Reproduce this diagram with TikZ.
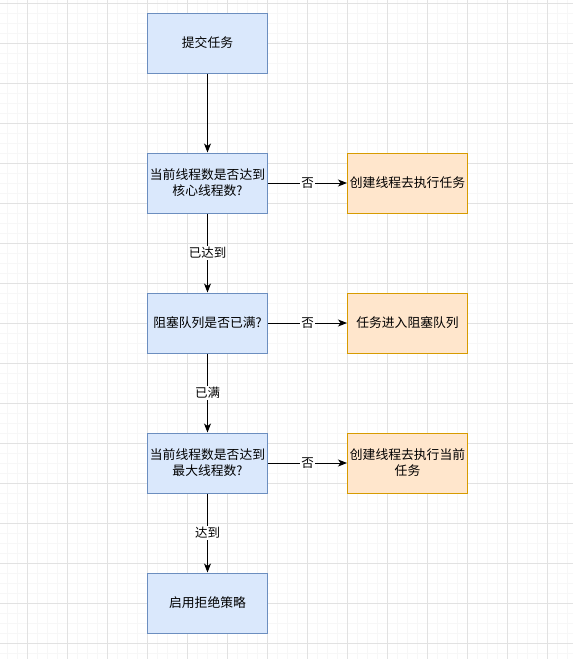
\documentclass[tikz,border=0pt]{standalone}
\usepackage{fontspec}
\setmainfont{Noto Sans CJK SC}
\usetikzlibrary{arrows.meta}
\definecolor{bfill}{HTML}{DAE8FC}
\definecolor{bdraw}{HTML}{6C8EBF}
\definecolor{ofill}{HTML}{FFE6CC}
\definecolor{odraw}{HTML}{D79B00}
\definecolor{gminor}{HTML}{F7F7F7}
\definecolor{gmajor}{HTML}{E2E2E2}
\tikzset{
  box/.style={rectangle, minimum width=120pt, minimum height=60pt, align=center, inner sep=1pt, line width=1pt, font=\fontsize{12.8}{16}\selectfont},
  bluebox/.style={box, fill=bfill, draw=bdraw},
  orangebox/.style={box, fill=ofill, draw=odraw},
  conn/.style={line width=1pt, -{Stealth[length=9pt,width=7pt,inset=2.5pt]}},
  lbl/.style={fill=white, inner sep=1pt, font=\fontsize{12.5}{15}\selectfont}
}
\begin{document}
\begin{tikzpicture}[x=1pt,y=-1pt]
\fill[white] (0,0) rectangle (573,659);
\useasboundingbox (0,0) rectangle (573,659);
\foreach \x in {7,17,...,567} \draw[gminor, line width=0.8pt] (\x,0) -- (\x,659);
\foreach \y in {3,13,...,653} \draw[gminor, line width=0.8pt] (0,\y) -- (573,\y);
\foreach \x in {27,67,...,547} \draw[gmajor, line width=0.8pt] (\x,0) -- (\x,659);
\foreach \y in {3,43,...,643} \draw[gmajor, line width=0.8pt] (0,\y) -- (573,\y);

\node[bluebox] (submit) at (207.5,43) {提交任务};
\node[bluebox] (core) at (207.5,183) {当前线程数是否达到\\核心线程数?};
\node[bluebox] (queue) at (207.5,323) {阻塞队列是否已满?};
\node[bluebox] (max) at (207.5,463) {当前线程数是否达到\\最大线程数?};
\node[bluebox] (reject) at (207.5,603) {启用拒绝策略};

\node[orangebox] (create1) at (407.5,183) {创建线程去执行任务};
\node[orangebox] (enqueue) at (407.5,323) {任务进入阻塞队列};
\node[orangebox] (create2) at (407.5,463) {创建线程去执行当前\\任务};

\draw[conn] (submit) -- (core);
\draw[conn] (core) -- node[lbl, pos=0.5] {已达到} (queue);
\draw[conn] (queue) -- node[lbl, pos=0.5] {已满} (max);
\draw[conn] (max) -- node[lbl, pos=0.5] {达到} (reject);

\draw[conn] (core) -- node[lbl, pos=0.5] {否} (create1);
\draw[conn] (queue) -- node[lbl, pos=0.5] {否} (enqueue);
\draw[conn] (max) -- node[lbl, pos=0.5] {否} (create2);
\end{tikzpicture}
\end{document}
